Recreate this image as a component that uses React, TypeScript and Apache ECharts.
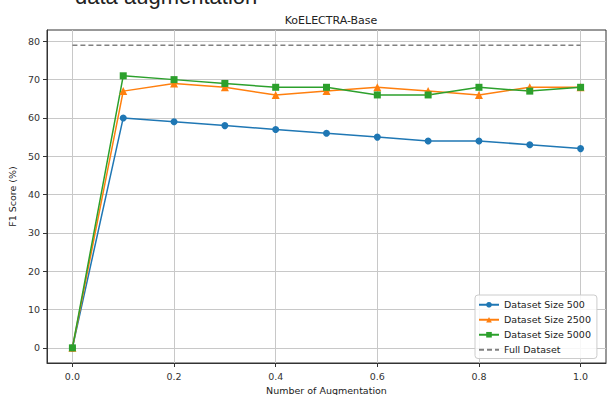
import React, { useEffect, useRef } from "react";
import * as echarts from "echarts";

const xValues = [0.0, 0.1, 0.2, 0.3, 0.4, 0.5, 0.6, 0.7, 0.8, 0.9, 1.0];
const size500 = [0, 60, 59, 58, 57, 56, 55, 54, 54, 53, 52];
const size2500 = [0, 67, 69, 68, 66, 67, 68, 67, 66, 68, 68];
const size5000 = [0, 71, 70, 69, 68, 68, 66, 66, 68, 67, 68];
const fullDatasetX = [0.0, 1.0];
const fullDatasetValue = 79;
const xTicks = [0.0, 0.2, 0.4, 0.6, 0.8, 1.0];
const yTicks = [0, 10, 20, 30, 40, 50, 60, 70, 80];
const seriesNames = ["Dataset Size 500", "Dataset Size 2500", "Dataset Size 5000", "Full Dataset"];

const FONT = "DejaVu Sans";

export default function App() {
  const ref = useRef<HTMLDivElement>(null);
  useEffect(() => {
    if (!ref.current) return;
    const chart = echarts.init(ref.current, undefined, { renderer: "svg" });
    const pair = (ys: number[]) => xValues.map((x, i) => [x, ys[i]]);
    const lineCommon = {
      type: "line",
      symbolSize: 7,
      lineStyle: { width: 1.5 },
      emphasis: { disabled: true },
    };
    chart.setOption({
      animation: false,
      backgroundColor: "#ffffff",
      title: {
        text: "KoELECTRA-Base",
        left: 326,
        textAlign: "center",
        top: 10,
        textStyle: { fontFamily: FONT, fontSize: 11, fontWeight: "normal", color: "#222" },
      },
      graphic: [
        {
          type: "text",
          x: 75,
          y: -4,
          style: {
            text: "data augmentation",
            fontFamily: "Liberation Sans",
            fontSize: 22,
            fill: "#222",
            verticalAlign: "middle",
          },
        },
      ],
      grid: {
        left: 47,
        right: 3,
        top: 30,
        bottom: 32,
        containLabel: false,
        outerBoundsMode: "none",
        show: true,
        borderColor: "#333",
        borderWidth: 1,
        backgroundColor: "transparent",
      },
      legend: {
        orient: "vertical",
        left: 475,
        top: 295,
        padding: [4, 6, 3, 3],
        itemGap: 3.5,
        itemWidth: 20,
        itemHeight: 7,
        backgroundColor: "rgba(255,255,255,0.85)",
        borderColor: "#cccccc",
        borderWidth: 1,
        borderRadius: 3,
        textStyle: { fontFamily: FONT, fontSize: 9.5, color: "#222", lineHeight: 11.5 },
        data: [
          seriesNames[0],
          seriesNames[1],
          seriesNames[2],
          { name: seriesNames[3], itemStyle: { opacity: 0 } },
        ],
      },
      xAxis: {
        type: "value",
        min: -0.05,
        max: 1.05,
        name: "Number of Augmentation",
        nameLocation: "middle",
        nameGap: 20,
        nameTextStyle: { fontFamily: FONT, fontSize: 9.5, color: "#222" },
        axisLine: { show: true, onZero: false, lineStyle: { color: "#333", width: 1 } },
        axisTick: { show: true, length: 4, customValues: xTicks, lineStyle: { color: "#333" } },
        axisLabel: {
          customValues: xTicks,
          margin: 8,
          fontFamily: FONT,
          fontSize: 9.5,
          color: "#333",
          formatter: (v: number) => v.toFixed(1),
        },
        splitLine: { show: true, lineStyle: { color: "#c8c8c8", width: 1 } },
      },
      yAxis: {
        type: "value",
        min: -3.95,
        max: 82.95,
        name: "F1 Score (%)",
        nameLocation: "middle",
        nameGap: 22,
        nameTextStyle: { fontFamily: FONT, fontSize: 9.5, color: "#222" },
        axisLine: { show: true, onZero: false, lineStyle: { color: "#333", width: 1 } },
        axisTick: { show: true, length: 4, customValues: yTicks, lineStyle: { color: "#333" } },
        axisLabel: {
          customValues: yTicks,
          margin: 7,
          fontFamily: FONT,
          fontSize: 9.5,
          color: "#333",
        },
        splitLine: { show: true, lineStyle: { color: "#c8c8c8", width: 1 } },
      },
      series: [
        {
          ...lineCommon,
          name: seriesNames[0],
          data: pair(size500),
          symbol: "circle",
          color: "#1f77b4",
        },
        {
          ...lineCommon,
          name: seriesNames[1],
          data: pair(size2500),
          symbol: "triangle",
          symbolSize: 8,
          color: "#ff7f0e",
        },
        {
          ...lineCommon,
          name: seriesNames[2],
          data: pair(size5000),
          symbol: "rect",
          color: "#2ca02c",
        },
        {
          type: "line",
          name: seriesNames[3],
          data: fullDatasetX.map((x) => [x, fullDatasetValue]),
          symbol: "none",
          color: "#808080",
          lineStyle: { width: 1.5, type: [5, 3] },
          emphasis: { disabled: true },
        },
      ],
    });
    return () => chart.dispose();
  }, []);
  return (
    <div
      ref={ref}
      style={{ position: "absolute", left: 0, top: 0, width: 609, height: 395 }}
    />
  );
}
